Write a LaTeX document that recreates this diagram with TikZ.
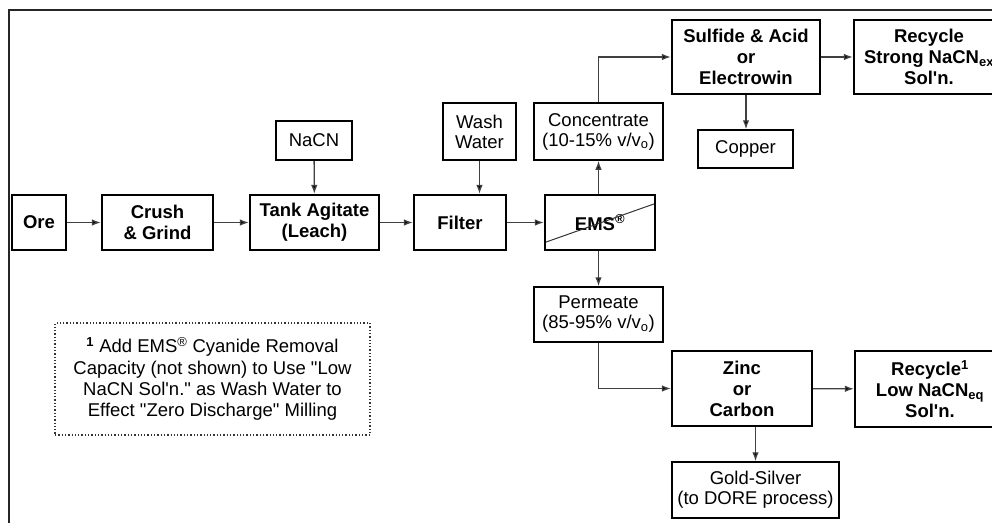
\documentclass[tikz,border=0pt]{standalone}
\usepackage{fontspec}
\setmainfont{Liberation Sans}
\newfontfamily\arial{Liberation Sans}
\usetikzlibrary{arrows.meta,calc}
\tikzset{
  mainbox/.style={draw=black, line width=2.2pt, rectangle, inner sep=0pt, align=center,
    font=\arial\fontsize{18.5}{21}\selectfont\bfseries},
  subbox/.style={draw=black, line width=1.5pt, rectangle, inner sep=0pt, align=center,
    font=\arial\fontsize{18.5}{20}\selectfont},
  notebox/.style={draw=black!80, line width=1.3pt, dotted, rectangle, inner sep=0pt, align=center,
    font=\arial\fontsize{18.5}{21.3}\selectfont},
  flow/.style={draw=black!75, line width=1.3pt, -{Latex[length=9pt,width=6.5pt,fill=black]}},
  frame/.style={draw=black!85, line width=2pt}
}
\begin{document}
\begin{tikzpicture}[x=1pt,y=-1pt]
\useasboundingbox (0,0) rectangle (992,522);
\clip (0,0) rectangle (992,522);
\fill[white] (0,0) rectangle (992,522);
\draw[frame] (1100,10) -- (9,10) -- (9,600);

% main boxes
\node[mainbox, minimum width=54pt, minimum height=55pt] (ore) at (39,222.5) {Ore};
\node[mainbox, minimum width=111pt, minimum height=55pt] (crush) at (157.5,222.5) {Crush\\\& Grind};
\node[mainbox, minimum width=129pt, minimum height=55pt] (tank) at (314.5,222.5) {Tank Agitate\\(Leach)};
\node[mainbox, minimum width=92pt, minimum height=55pt] (filter) at (460,222.5) {Filter};
\node[mainbox, minimum width=110pt, minimum height=55pt] (ems) at (600,222.5) {EMS\textsuperscript{®}};
\node[mainbox, minimum width=148pt, minimum height=74pt] (sulfide) at (746,57) {Sulfide \& Acid\\or\\Electrowin};
\node[mainbox, minimum width=150pt, minimum height=74pt] (recs) at (929,57) {Recycle\\Strong NaCN\textsubscript{ex}\\Sol'n.};
\node[mainbox, minimum width=140pt, minimum height=75pt] (zinc) at (742,388.5) {Zinc\\or\\Carbon};
\node[mainbox, minimum width=150pt, minimum height=76pt] (recl) at (930,389) {Recycle\textsuperscript{1}\\Low NaCN\textsubscript{eq}\\Sol'n.};

% secondary boxes
\node[subbox, minimum width=76pt, minimum height=39pt] (nacn) at (314,140.5) {NaCN};
\node[subbox, minimum width=73pt, minimum height=57pt] (wash) at (479.5,131.5) {Wash\\Water};
\node[subbox, minimum width=129pt, minimum height=57pt] (conc) at (598.5,131.5) {Concentrate\\(10-15\% v/v\textsubscript{o})};
\node[subbox, minimum width=95pt, minimum height=38pt] (copper) at (745.5,149) {Copper};
\node[subbox, minimum width=129pt, minimum height=55pt] (perm) at (598.5,314.5) {Permeate\\(85-95\% v/v\textsubscript{o})};
\node[subbox, minimum width=167pt, minimum height=56pt] (gold) at (755.5,490) {Gold-Silver\\(to DORE process)};

% note
\node[notebox, minimum width=315pt, minimum height=112pt] (note) at (212.5,379)
  {\textsuperscript{\bfseries 1} Add EMS\textsuperscript{®} Cyanide Removal\\Capacity (not shown) to Use "Low\\NaCN Sol'n." as Wash Water to\\Effect "Zero Discharge" Milling};

% EMS membrane line
\draw[line width=1pt, black!80] ($(ems.south west)+(2,-9)$) -- ($(ems.north east)+(-2,10)$);

% connectors
\draw[flow] (ore) -- (crush);
\draw[flow] (crush) -- (tank);
\draw[flow] (tank) -- (filter);
\draw[flow] (filter) -- (ems);
\draw[flow] (nacn) -- (tank);
\draw[flow] (wash.south) -- (wash.south |- filter.north);
\draw[flow] (conc.south |- ems.north) -- (conc.south);
\draw[flow] (conc.north) |- (sulfide.west);
\draw[flow] (sulfide) -- (recs);
\draw[flow] (sulfide.south) -- (copper.north -| sulfide.south);
\draw[flow] (perm.north |- ems.south) -- (perm.north);
\draw[flow] (perm.south) |- (zinc.west);
\draw[flow] (zinc) -- (recl);
\draw[flow] (gold.north |- zinc.south) -- (gold.north);
\end{tikzpicture}
\end{document}
